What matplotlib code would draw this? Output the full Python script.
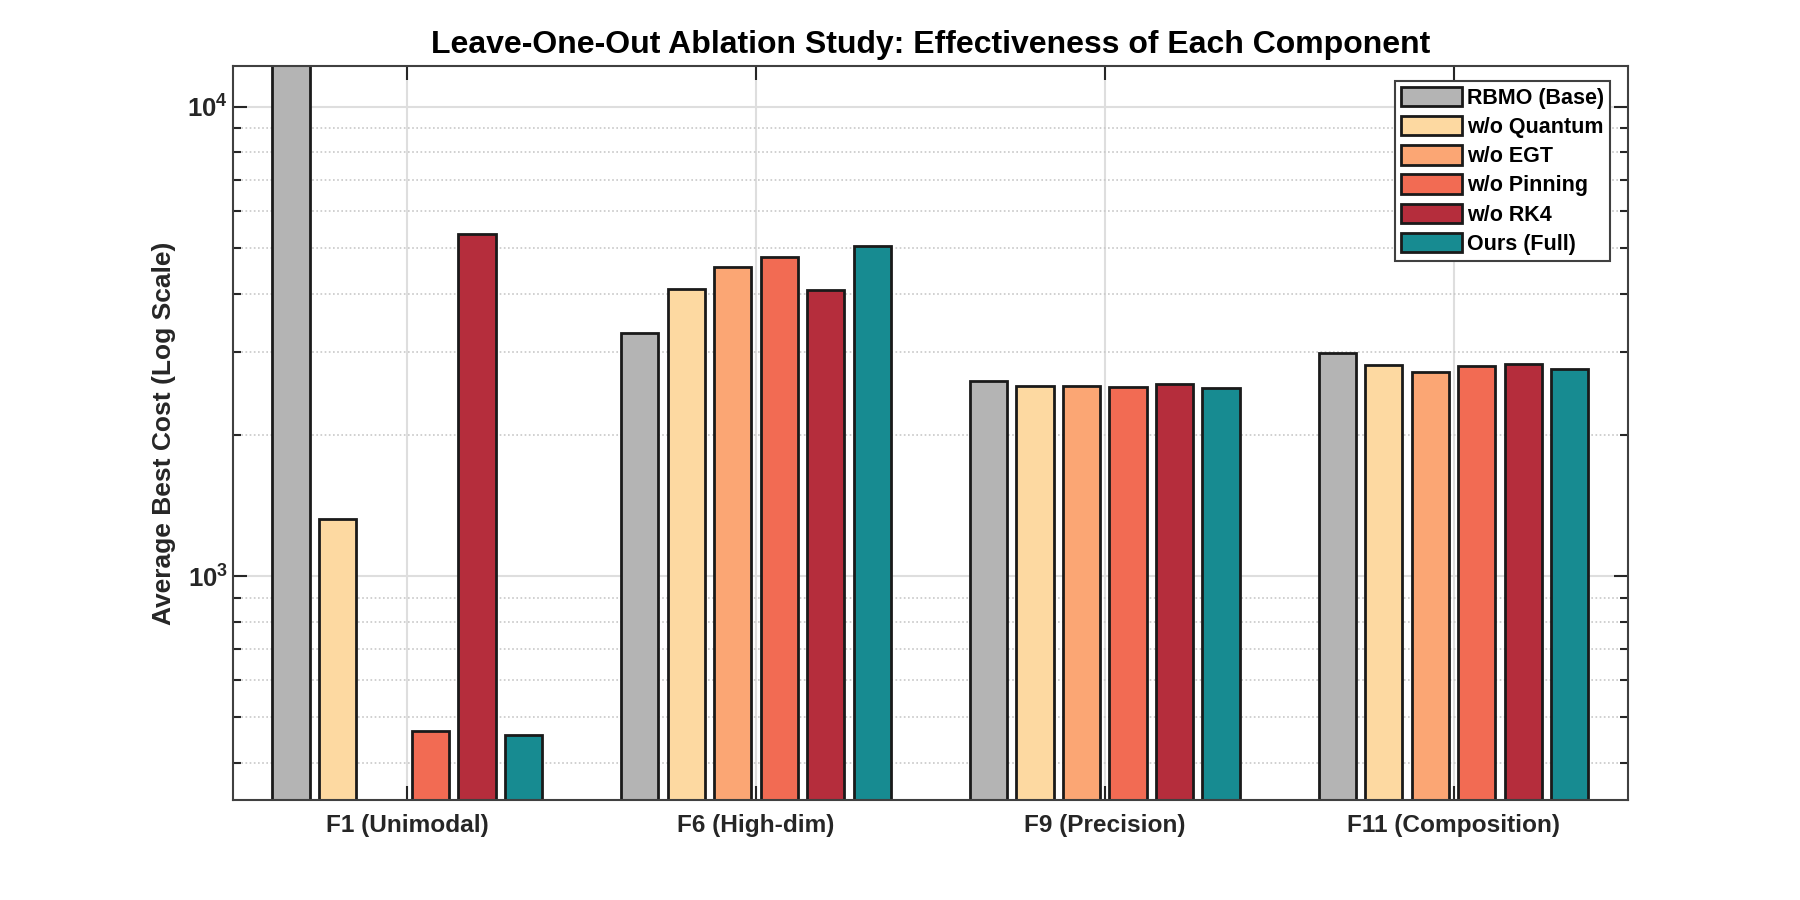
import numpy as np
import matplotlib
matplotlib.use("Agg")
import matplotlib.pyplot as plt
from matplotlib.ticker import FixedLocator, FuncFormatter, NullFormatter

plt.rcParams['font.family'] = ['Liberation Sans', 'DejaVu Sans']
plt.rcParams['mathtext.fontset'] = 'custom'
plt.rcParams['mathtext.bf'] = 'Liberation Sans:bold'
plt.rcParams['mathtext.rm'] = 'Liberation Sans'

# data
functions = ['F1 (Unimodal)', 'F6 (High-dim)', 'F9 (Precision)', 'F11 (Composition)']
variants = ['RBMO (Base)', 'w/o Quantum', 'w/o EGT', 'w/o Pinning', 'w/o RK4', 'Ours (Full)']
rbmo_base = [20000, 3300, 2610, 2985]
wo_quantum = [1323, 4087, 2542, 2818]
wo_egt = [np.nan, 4551, 2542, 2723]
wo_pinning = [467, 4781, 2526, 2804]
wo_rk4 = [5358, 4082, 2567, 2832]
ours_full = [458, 5052, 2520, 2759]
colors = ['#b4b4b4', '#fdd9a1', '#fba674', '#f26b53', '#b52d3c', '#178b91']

series = [rbmo_base, wo_quantum, wo_egt, wo_pinning, wo_rk4, ours_full]

fig = plt.figure(figsize=(18, 9), dpi=100)
ax = fig.add_axes([0.1294, 0.1111, 0.775, 0.8156])

x = np.arange(1, len(functions) + 1)
n = len(series)
step = 0.8 / n
for i, (vals, name, c) in enumerate(zip(series, variants, colors)):
    ax.bar(x + (i - (n - 1) / 2) * step, vals, width=step * 0.8, color=c,
           edgecolor='#1a1a1a', linewidth=2.0, label=name, zorder=2)

ax.set_yscale('log')
ax.set_ylim(333.3, 12230)
ax.set_xlim(0.5, 4.5)

ax.yaxis.set_major_locator(FixedLocator([1e3, 1e4]))
ax.yaxis.set_major_formatter(FuncFormatter(lambda v, p: r'$\mathbf{10^{%d}}$' % round(np.log10(v))))
ax.yaxis.set_minor_formatter(NullFormatter())
ax.set_xticks(x)
ax.set_xticklabels(functions, fontsize=17.6, fontweight='bold', color='#262626')
ax.tick_params(axis='y', which='major', labelsize=18.5, labelcolor='#262626')

ax.tick_params(which='both', direction='in', top=True, right=True, color='#262626', width=1.5)
ax.tick_params(which='major', length=10)
ax.tick_params(which='minor', length=6)
ax.tick_params(axis='x', pad=10)

ax.set_axisbelow(True)
ax.grid(True, which='major', color='#dedede', linewidth=1.5, linestyle='-')
ax.yaxis.grid(True, which='minor', color='#c8c8c8', linewidth=1.2, linestyle=(0, (1, 1.5)))

for s in ax.spines.values():
    s.set_color('#404040')
    s.set_linewidth(1.5)

ax.set_ylabel('Average Best Cost (Log Scale)', fontsize=19, fontweight='bold', color='#262626', labelpad=8)
ax.set_title('Leave-One-Out Ablation Study: Effectiveness of Each Component',
             fontsize=23, fontweight='bold', pad=9)

leg = ax.legend(loc='upper right', bbox_to_anchor=(0.9875, 0.98),
                prop={'weight': 'bold', 'size': 15.5}, fancybox=False, framealpha=1,
                edgecolor='#404040', handlelength=2.8, handleheight=1.0,
                handletextpad=0.25, labelspacing=0.33, borderpad=0.3, borderaxespad=0)
leg.get_frame().set_linewidth(1.5)

plt.savefig('out.png', dpi=100)
plt.close()
